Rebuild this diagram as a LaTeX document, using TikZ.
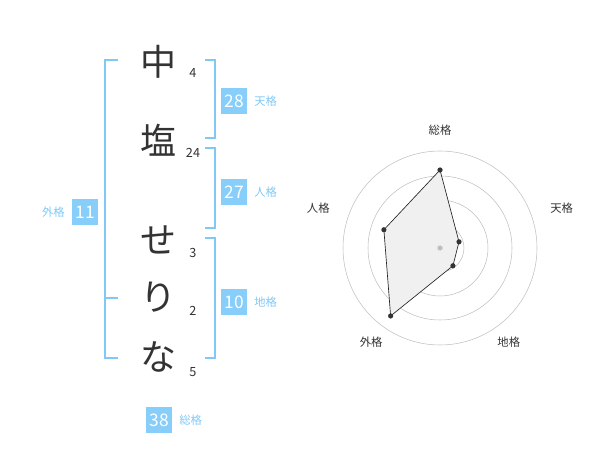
\documentclass[tikz,border=0pt]{standalone}
\usepackage{fontspec}
\setmainfont{Noto Sans CJK JP}
\usetikzlibrary{positioning}
\definecolor{kakublue}{RGB}{130,200,245}
\definecolor{boxblue}{RGB}{135,206,250}
\begin{document}
\begin{tikzpicture}[x=0.75pt,y=-0.75pt,
    bigchar/.style={font=\fontsize{27}{27}\selectfont, text=black!80},
    stroke/.style={font=\fontsize{9.5}{10}\selectfont, text=black!80},
    kakubox/.style={fill=boxblue, text=white, minimum width=19pt, minimum height=19pt, inner sep=0pt, font=\fontsize{13}{13}\selectfont},
    kakulabel/.style={text=kakublue, font=\fontsize{8.5}{9}\selectfont},
    bracket/.style={draw=kakublue, line width=1.3pt},
    axislabel/.style={font=\fontsize{8.5}{9}\selectfont, text=black!80}]
  \useasboundingbox (0,0) rectangle (600,470);
  % name
  \node[bigchar] (c1) at (158,62) {中};
  \node[bigchar] (c2) at (158,140) {塩};
  \node[bigchar] (c3) at (158,240) {せ};
  \node[bigchar] (c4) at (158,297) {り};
  \node[bigchar] (c5) at (158,357) {な};
  \node[stroke] (s1) at (193,73) {4};
  \node[stroke] (s2) at (193,153) {24};
  \node[stroke] (s3) at (193,253) {3};
  \node[stroke] (s4) at (193,311) {2};
  \node[stroke] (s5) at (193,372) {5};
  % brackets
  \draw[bracket] (118,60) -- (105,60) -- (105,358) -- (118,358) (105,298) -- (118,298);
  \draw[bracket] (205,60) -- (215,60) -- (215,138) -- (205,138);
  \draw[bracket] (205,148) -- (215,148) -- (215,228) -- (205,228);
  \draw[bracket] (205,238) -- (215,238) -- (215,358) -- (205,358);
  % kaku
  \node[kakubox] (gai) at (85,212) {11};
  \node[kakulabel, left=2pt of gai] (gai_text) {外格};
  \node[kakubox] (ten) at (234,101) {28};
  \node[kakulabel, right=2pt of ten] (ten_text) {天格};
  \node[kakubox] (jin) at (234,192) {27};
  \node[kakulabel, right=2pt of jin] (jin_text) {人格};
  \node[kakubox] (chi) at (234,302) {10};
  \node[kakulabel, right=2pt of chi] (chi_text) {地格};
  \node[kakubox] (so) at (159,420) {38};
  \node[kakulabel, right=2pt of so] (so_text) {総格};
  % radar
  \begin{scope}[shift={(440,248)}, yscale=-1]
    \foreach \r in {24,48,72,97}
      \draw[black!25, line width=0.4pt] (0,0) circle (\r);
    \fill[black!6, draw=black!85, line width=0.5pt]
      (90:78) coordinate (p1) -- (18:20) coordinate (p2) -- (-54:22) coordinate (p3)
      -- (-126:84) coordinate (p4) -- (162:59) coordinate (p5) -- cycle;
    \foreach \p in {p1,p2,p3,p4,p5}
      \fill[black!80] (\p) circle (2.6);
    \fill[black!25] (0,0) circle (2.6);
    \node[axislabel] (r_so) at (90:118) {総格};
    \node[axislabel] (r_ten) at (18:128) {天格};
    \node[axislabel] (r_chi) at (-54:117) {地格};
    \node[axislabel] (r_gai) at (-126:117) {外格};
    \node[axislabel] (r_jin) at (162:128) {人格};
  \end{scope}
\end{tikzpicture}
\end{document}
